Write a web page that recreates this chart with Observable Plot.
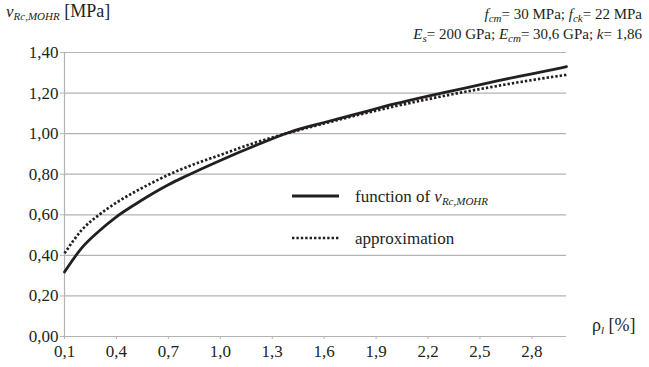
<!DOCTYPE html>
<html><head><meta charset="utf-8">
<script src="https://cdn.jsdelivr.net/npm/d3@7"></script>
<script src="https://cdn.jsdelivr.net/npm/@observablehq/plot@0.6"></script>
<style>body{margin:0;background:#fff}</style>
</head><body><div id="chart"></div>
<script>
// reinforcement ratio ρl [%]
const rho       = [0.1, 0.2, 0.3, 0.4, 0.5, 0.6, 0.7, 0.8, 1.0, 1.2, 1.4, 1.6, 1.8, 2.0, 2.2, 2.4, 2.6, 2.8, 3.0];
// v_Rc,MOHR [MPa] – function
const vFunction = [0.318, 0.437, 0.52, 0.59, 0.647, 0.70, 0.748, 0.79, 0.868, 0.94, 1.007, 1.055, 1.10, 1.145, 1.185, 1.222, 1.26, 1.295, 1.33];
// approximation
const vApprox   = [0.41, 0.525, 0.60, 0.66, 0.71, 0.755, 0.797, 0.833, 0.895, 0.955, 1.005, 1.05, 1.093, 1.133, 1.17, 1.204, 1.235, 1.264, 1.29];
const xTicks = [0.1, 0.4, 0.7, 1.0, 1.3, 1.6, 1.9, 2.2, 2.5, 2.8];
const yTicks = [0, 0.2, 0.4, 0.6, 0.8, 1.0, 1.2, 1.4];
const seriesNames = ["function", "approximation"];

const table = [];
rho.forEach((r, i) => {
  table.push({rho: r, v: vFunction[i], s: seriesNames[0]});
  table.push({rho: r, v: vApprox[i], s: seriesNames[1]});
});

const comma = (d, n) => d.toFixed(n).replace(".", ",");
const gridColor = "#b3b3b3";
const ink = "#231f20";
const serif = "'Liberation Serif', 'Times New Roman', serif";

const chart = Plot.plot({
  width: 649, height: 367,
  marginTop: 52, marginBottom: 31, marginLeft: 64, marginRight: 83,
  style: {fontFamily: serif, fontSize: "16px", color: ink, background: "#fff"},
  x: {domain: [0.1, 3.0]},
  y: {domain: [0, 1.4]},
  marks: [
    Plot.ruleY(yTicks, {stroke: gridColor, strokeWidth: 1.2}),
    Plot.ruleX([0.1], {stroke: gridColor, strokeWidth: 1.2}),
    Plot.axisY({ticks: yTicks, tickFormat: d => comma(d, 2), tickSize: 4, tickPadding: 2, stroke: gridColor, fill: ink, fontSize: 17, fontFamily: serif, label: null}),
    Plot.axisX({ticks: xTicks, tickFormat: d => comma(d, 1), tickSize: 3, tickPadding: 5, stroke: gridColor, fill: ink, fontSize: 17, fontFamily: serif, label: null}),
    Plot.line(table.filter(d => d.s === seriesNames[1]), {x: "rho", y: "v", curve: "monotone-x", stroke: ink, strokeWidth: 2.7, strokeLinecap: "butt", strokeDasharray: "2.4,2"}),
    Plot.line(table.filter(d => d.s === seriesNames[0]), {x: "rho", y: "v", curve: "monotone-x", stroke: ink, strokeWidth: 2.8})
  ]
});
document.getElementById("chart").appendChild(chart);

const svg = d3.select(chart);
const addText = (x, y, parts, anchor = "start") => {
  const t = svg.append("text").attr("x", x).attr("y", y).attr("text-anchor", anchor)
    .attr("font-family", serif).attr("fill", ink);
  parts.forEach(p => {
    const ts = t.append("tspan").text(p.t).attr("font-size", p.sub ? 11 : (p.size || 16));
    if (p.it) ts.attr("font-style", "italic");
    if (p.sub) ts.attr("dy", 3); else if (p.after) ts.attr("dy", -3);
  });
  return t;
};
// y axis title
addText(6, 17, [{t: "v", it: true, size: 17}, {t: "Rc,MOHR", it: true, sub: true}, {t: " [MPa]", after: true, size: 18}]);
// parameters
addText(642, 19, [{t: "f", it: true, size: 15}, {t: "cm", it: true, sub: true}, {t: "= 30 MPa; ", after: true, size: 15},
  {t: "f", it: true, size: 15}, {t: "ck", it: true, sub: true}, {t: "= 22 MPa", after: true, size: 15}], "end");
addText(642, 39, [{t: "E", it: true, size: 15}, {t: "s", it: true, sub: true}, {t: "= 200 GPa; ", after: true, size: 15},
  {t: "E", it: true, size: 15}, {t: "cm", it: true, sub: true}, {t: "= 30,6 GPa; ", after: true, size: 15},
  {t: "k", it: true, size: 15}, {t: "= 1,86", size: 15}], "end");
// x axis title
addText(592, 331, [{t: "ρ", size: 18}, {t: "l", it: true, sub: true}, {t: " [%]", after: true, size: 18}]);
// legend
svg.append("line").attr("x1", 292).attr("x2", 339).attr("y1", 196).attr("y2", 196).attr("stroke", ink).attr("stroke-width", 2.8);
svg.append("line").attr("x1", 292).attr("x2", 339).attr("y1", 238).attr("y2", 238).attr("stroke", ink).attr("stroke-width", 2.7).attr("stroke-dasharray", "2.4,2");
addText(355, 202, [{t: "function of ", size: 17}, {t: "v", it: true, size: 17}, {t: "Rc,MOHR", it: true, sub: true}]);
addText(355, 244, [{t: "approximation", size: 17}]);
</script>
</body></html>
